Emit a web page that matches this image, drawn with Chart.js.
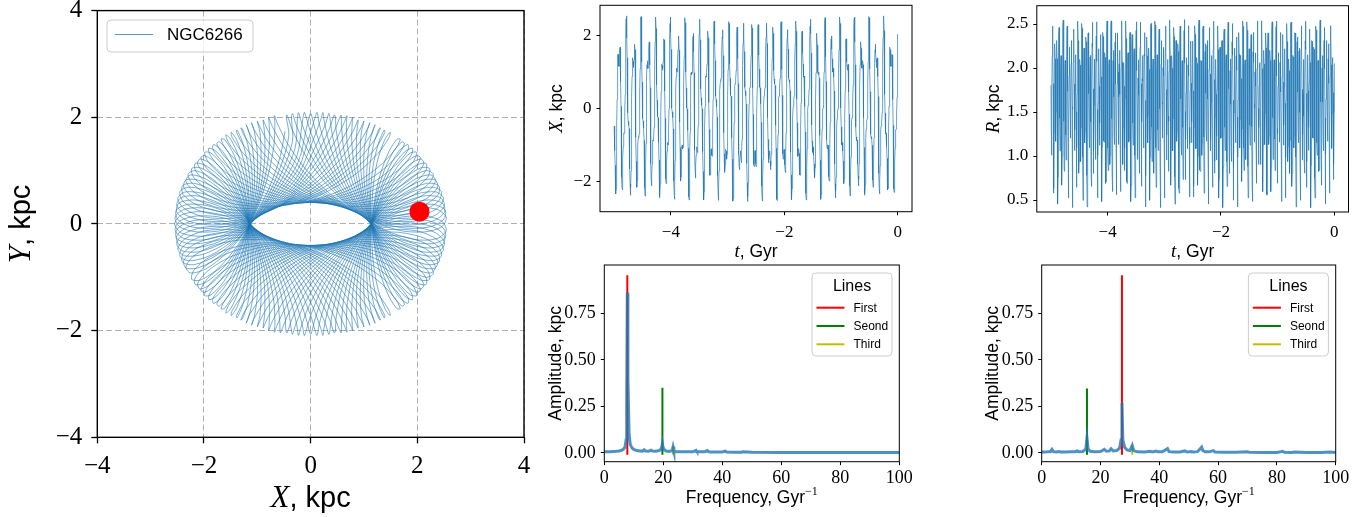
<!DOCTYPE html>
<html>
<head>
<meta charset="utf-8">
<title>NGC6266 orbit</title>
<script src="https://cdn.jsdelivr.net/npm/chart.js@4.4.1/dist/chart.umd.min.js"></script>
<style>
  html, body { margin: 0; padding: 0; background: #fff; }
  #page { position: relative; width: 1371px; height: 517px; }
  #page canvas { position: absolute; left: 0; top: 0; }
</style>
</head>
<body>
<div id="page">
  <canvas id="orbit" width="1371" height="517"></canvas>
  <canvas id="xt" width="1371" height="517"></canvas>
  <canvas id="rt" width="1371" height="517"></canvas>
  <canvas id="xspec" width="1371" height="517"></canvas>
  <canvas id="rspec" width="1371" height="517"></canvas>
</div>
<script>
// Galactocentric orbit of NGC6266, X and Y in kpc, sampled evenly from t = -5 Gyr to now
const orbitX = [
  -0.48, -0.58, -0.81, -1.15, -1.56, -1.96, -2.25, -2.34, -2.19, -1.78, -1.18, -0.46, 0.25, 0.85, 1.26, 1.47, 1.49, 1.39, 1.25, 1.16, 1.16, 1.27, 1.44, 1.61, 1.68, 1.58, 1.26, 0.74, 0.06, -0.68, -1.37, -1.89, -2.19, -2.23, -2.06, -1.74, -1.37, -1.04, -0.81, -0.69, -0.67, -0.68, -0.63, -0.46, -0.12, 0.38, 0.99, 1.61, 2.13, 2.46, 2.54, 2.35, 1.94, 1.39, 0.80, 0.27, -0.12, -0.35, -0.44, -0.46,
  -0.41, -0.55, -0.83, -1.22, -1.66, -2.07, -2.33, -2.38, -2.16, -1.71, -1.07, -0.36, 0.33, 0.88, 1.24, 1.39, 1.38, 1.28, 1.17, 1.12, 1.18, 1.34, 1.54, 1.71, 1.76, 1.61, 1.24, 0.66, -0.05, -0.79, -1.45, -1.92, -2.16, -2.16, -1.96, -1.63, -1.29, -1.01, -0.83, -0.77, -0.78, -0.79, -0.71, -0.49, -0.09, 0.46, 1.09, 1.71, 2.21, 2.49, 2.52, 2.28, 1.84, 1.28, 0.72, 0.24, -0.09, -0.28, -0.34, -0.36,
  -0.34, -0.54, -0.87, -1.31, -1.77, -2.17, -2.40, -2.39, -2.12, -1.62, -0.96, -0.25, 0.39, 0.89, 1.20, 1.31, 1.28, 1.18, 1.10, 1.11, 1.23, 1.43, 1.65, 1.82, 1.83, 1.62, 1.20, 0.57, -0.16, -0.89, -1.51, -1.94, -2.12, -2.07, -1.85, -1.53, -1.22, -0.99, -0.87, -0.86, -0.89, -0.89, -0.78, -0.51, -0.05, 0.54, 1.20, 1.82, 2.28, 2.51, 2.47, 2.19, 1.73, 1.18, 0.65, 0.23, -0.05, -0.19, -0.23, -0.25,
  -0.29, -0.54, -0.93, -1.41, -1.88, -2.26, -2.45, -2.39, -2.06, -1.52, -0.85, -0.16, 0.45, 0.89, 1.14, 1.21, 1.17, 1.09, 1.05, 1.11, 1.28, 1.52, 1.76, 1.91, 1.88, 1.62, 1.14, 0.48, -0.27, -0.98, -1.56, -1.93, -2.06, -1.98, -1.74, -1.44, -1.17, -0.99, -0.93, -0.95, -1.00, -0.98, -0.83, -0.50, 0.01, 0.64, 1.31, 1.91, 2.33, 2.51, 2.42, 2.09, 1.62, 1.09, 0.60, 0.23, 0.01, -0.09, -0.12, -0.16,
  -0.25, -0.56, -1.00, -1.51, -1.99, -2.35, -2.49, -2.37, -1.99, -1.42, -0.74, -0.08, 0.48, 0.87, 1.07, 1.11, 1.06, 1.00, 1.01, 1.13, 1.36, 1.63, 1.87, 1.99, 1.91, 1.60, 1.07, 0.37, -0.37, -1.07, -1.60, -1.91, -1.99, -1.87, -1.63, -1.36, -1.13, -1.01, -1.00, -1.06, -1.11, -1.07, -0.87, -0.48, 0.08, 0.74, 1.42, 1.99, 2.37, 2.49, 2.35, 1.99, 1.51, 1.00, 0.56, 0.25, 0.08, 0.01, -0.01, -0.08,
  -0.23, -0.60, -1.09, -1.62, -2.09, -2.42, -2.51, -2.33, -1.91, -1.31, -0.64, -0.01, 0.50, 0.83, 0.98, 1.00, 0.95, 0.93, 0.99, 1.17, 1.44, 1.74, 1.98, 2.06, 1.93, 1.56, 0.98, 0.27, -0.48, -1.14, -1.62, -1.88, -1.91, -1.76, -1.52, -1.28, -1.11, -1.05, -1.09, -1.17, -1.21, -1.14, -0.89, -0.45, 0.16, 0.85, 1.52, 2.06, 2.39, 2.45, 2.26, 1.88, 1.41, 0.93, 0.54, 0.29, 0.16, 0.12, 0.09, -0.01,
  -0.23, -0.65, -1.18, -1.73, -2.19, -2.47, -2.51, -2.28, -1.82, -1.20, -0.54, 0.05, 0.51, 0.78, 0.89, 0.89, 0.86, 0.87, 0.99, 1.22, 1.53, 1.85, 2.07, 2.12, 1.94, 1.51, 0.89, 0.16, -0.57, -1.20, -1.62, -1.83, -1.82, -1.65, -1.43, -1.23, -1.11, -1.10, -1.18, -1.28, -1.31, -1.20, -0.89, -0.39, 0.25, 0.96, 1.62, 2.12, 2.39, 2.40, 2.17, 1.77, 1.31, 0.87, 0.54, 0.34, 0.25, 0.23, 0.19, 0.05,
  -0.24, -0.72, -1.28, -1.84, -2.28, -2.52, -2.49, -2.21, -1.71, -1.09, -0.46, 0.09, 0.49, 0.71, 0.79, 0.78, 0.77, 0.83, 1.01, 1.29, 1.63, 1.96, 2.16, 2.16, 1.92, 1.45, 0.79, 0.05, -0.66, -1.24, -1.61, -1.76, -1.71, -1.54, -1.34, -1.18, -1.12, -1.17, -1.28, -1.38, -1.39, -1.24, -0.88, -0.33, 0.36, 1.07, 1.71, 2.16, 2.38, 2.33, 2.07, 1.66, 1.22, 0.83, 0.55, 0.41, 0.36, 0.34, 0.28, 0.09,
  -0.27, -0.80, -1.39, -1.94, -2.35, -2.54, -2.46, -2.13, -1.61, -0.99, -0.38, 0.12, 0.46, 0.63, 0.68, 0.67, 0.69, 0.81, 1.04, 1.37, 1.74, 2.06, 2.23, 2.19, 1.89, 1.37, 0.68, -0.06, -0.74, -1.26, -1.58, -1.68, -1.61, -1.44, -1.27, -1.16, -1.16, -1.25, -1.39, -1.49, -1.47, -1.26, -0.85, -0.25, 0.46, 1.18, 1.78, 2.19, 2.34, 2.25, 1.96, 1.56, 1.15, 0.81, 0.58, 0.48, 0.46, 0.44, 0.35, 0.12,
  -0.32, -0.89, -1.50, -2.04, -2.42, -2.55, -2.42, -2.04, -1.50, -0.89, -0.32, 0.13, 0.41, 0.54, 0.57, 0.58, 0.63, 0.80, 1.08, 1.46, 1.85, 2.16, 2.30, 2.20, 1.84, 1.28, 0.57, -0.16, -0.80, -1.27, -1.53, -1.59, -1.50, -1.34, -1.20, -1.15, -1.20, -1.34, -1.50, -1.59, -1.53, -1.27, -0.80, -0.16, 0.57, 1.28, 1.84, 2.20, 2.30, 2.16, 1.85, 1.46, 1.08, 0.80, 0.63, 0.58, 0.57, 0.54, 0.41, 0.13,
  -0.38, -0.99, -1.61, -2.13, -2.46, -2.54, -2.35, -1.94, -1.39, -0.80, -0.27, 0.12, 0.35, 0.44, 0.46, 0.48, 0.58, 0.81, 1.15, 1.56, 1.96, 2.25, 2.34, 2.19, 1.78, 1.18, 0.46, -0.25, -0.85, -1.26, -1.47, -1.49, -1.39, -1.25, -1.16, -1.16, -1.27, -1.44, -1.61, -1.68, -1.58, -1.26, -0.74, -0.06, 0.68, 1.37, 1.89, 2.19, 2.23, 2.06, 1.74, 1.37, 1.04, 0.81, 0.69, 0.67, 0.68, 0.63, 0.46, 0.12,
  -0.46, -1.09, -1.71, -2.21, -2.49, -2.52, -2.28, -1.84, -1.28, -0.72, -0.24, 0.09, 0.28, 0.34, 0.36, 0.41, 0.55, 0.83, 1.22, 1.66, 2.07, 2.33, 2.38, 2.16, 1.71, 1.07, 0.36, -0.33, -0.88, -1.24, -1.39, -1.38, -1.28, -1.17, -1.12, -1.18, -1.34, -1.54, -1.71, -1.76, -1.61, -1.24, -0.66, 0.05, 0.79, 1.45, 1.92, 2.16, 2.16, 1.96, 1.63, 1.29, 1.01, 0.83, 0.77, 0.78, 0.79, 0.71, 0.49, 0.09,
  -0.54, -1.20, -1.82, -2.28, -2.51, -2.47, -2.19, -1.73, -1.18, -0.65, -0.23, 0.05, 0.19, 0.23, 0.25, 0.34, 0.54, 0.87, 1.31, 1.77, 2.17, 2.40, 2.39, 2.12, 1.62, 0.96, 0.25, -0.39, -0.89, -1.20, -1.31, -1.28, -1.18, -1.10, -1.11, -1.23, -1.43, -1.65, -1.82, -1.83, -1.62, -1.20, -0.57, 0.16, 0.89, 1.51, 1.94, 2.12, 2.07, 1.85, 1.53, 1.22, 0.99, 0.87, 0.86, 0.89, 0.89, 0.78, 0.51, 0.05,
  -0.64, -1.31, -1.91, -2.33, -2.51, -2.42, -2.09, -1.62, -1.09, -0.60, -0.23, -0.01, 0.09, 0.12, 0.16, 0.29, 0.54, 0.93, 1.41, 1.88, 2.26, 2.45, 2.39, 2.06, 1.52, 0.85, 0.16, -0.45, -0.89, -1.14, -1.21, -1.17, -1.09, -1.05, -1.11, -1.28, -1.52, -1.76, -1.91, -1.88, -1.62, -1.14, -0.48, 0.27, 0.98, 1.56, 1.93, 2.06, 1.98, 1.74, 1.44, 1.17, 0.99, 0.93, 0.95, 1.00, 0.98, 0.83, 0.50, -0.01,
  -0.74, -1.42, -1.99, -2.37, -2.49, -2.35, -1.99, -1.51, -1.00, -0.56, -0.25, -0.08, -0.01, 0.01, 0.08, 0.25, 0.56, 1.00, 1.51, 1.99, 2.35, 2.49, 2.37, 1.99, 1.42, 0.74, 0.08, -0.48, -0.87, -1.07, -1.11, -1.06, -1.00, -1.01, -1.13, -1.36, -1.63, -1.87, -1.99, -1.91, -1.60, -1.07, -0.37, 0.37, 1.07, 1.60, 1.91, 1.99, 1.87, 1.63, 1.36, 1.13, 1.01, 1.00, 1.06, 1.11, 1.07, 0.87, 0.48, -0.08,
  -0.85, -1.52, -2.06, -2.39, -2.45, -2.26, -1.88, -1.41, -0.93, -0.54, -0.29, -0.16, -0.12, -0.09, 0.01, 0.23, 0.60, 1.09, 1.62, 2.09, 2.42, 2.51, 2.33, 1.91, 1.31, 0.64, 0.01, -0.50, -0.83, -0.98, -1.00, -0.95, -0.93, -0.99, -1.17, -1.44, -1.74, -1.98, -2.06, -1.93, -1.56, -0.98, -0.27, 0.48, 1.14, 1.62, 1.88, 1.91, 1.76, 1.52, 1.28, 1.11, 1.05, 1.09, 1.17, 1.21, 1.14, 0.89, 0.45, -0.16,
  -0.96, -1.62, -2.12, -2.39, -2.40, -2.17, -1.77, -1.31, -0.87, -0.54, -0.34, -0.25, -0.23, -0.19, -0.05, 0.23, 0.65, 1.18, 1.73, 2.19, 2.47, 2.51, 2.28, 1.82, 1.20, 0.54, -0.05, -0.51, -0.78, -0.89, -0.89, -0.86, -0.87, -0.99, -1.22, -1.53, -1.85, -2.07, -2.12, -1.94, -1.51, -0.89, -0.16, 0.57, 1.20, 1.62, 1.83, 1.82, 1.65, 1.43, 1.23, 1.11, 1.10, 1.18, 1.28, 1.31, 1.20, 0.89, 0.39, -0.25,
  -1.07, -1.71, -2.16, -2.38, -2.33, -2.07, -1.66, -1.22, -0.83, -0.55, -0.41, -0.36, -0.34, -0.28, -0.09, 0.24, 0.72, 1.28, 1.84, 2.28, 2.52, 2.49, 2.21, 1.71, 1.09, 0.46, -0.09, -0.49, -0.71, -0.79, -0.78, -0.77, -0.83, -1.01, -1.29, -1.63, -1.96, -2.16, -2.16, -1.92, -1.45, -0.79, -0.05, 0.66, 1.24, 1.61, 1.76, 1.71, 1.54, 1.34, 1.18, 1.12, 1.17, 1.28, 1.38, 1.39, 1.24, 0.88, 0.33, -0.36,
  -1.18, -1.78, -2.19, -2.34, -2.25, -1.96, -1.56, -1.15, -0.81, -0.58, -0.48, -0.46, -0.44, -0.35, -0.12, 0.27, 0.80, 1.39, 1.94, 2.35, 2.54, 2.46, 2.13, 1.61, 0.99, 0.38, -0.12, -0.46, -0.63, -0.68, -0.67, -0.69, -0.81, -1.04, -1.37, -1.74, -2.06, -2.23, -2.19, -1.89, -1.37, -0.68, 0.06, 0.74, 1.26, 1.58, 1.68, 1.61, 1.44, 1.27, 1.16, 1.16, 1.25, 1.39, 1.49, 1.47, 1.26, 0.85, 0.25, -0.46,
  -1.28, -1.84, -2.20, -2.30, -2.16, -1.85, -1.46, -1.08, -0.80, -0.63, -0.58, -0.57, -0.54, -0.41, -0.13, 0.32, 0.89, 1.50, 2.04
];
const orbitY = [
  1.74, 1.23, 0.60, -0.03, -0.53, -0.84, -0.92, -0.81, -0.60, -0.39, -0.29, -0.35, -0.58, -0.94, -1.32, -1.62, -1.72, -1.58, -1.17, -0.57, 0.13, 0.80, 1.30, 1.58, 1.59, 1.39, 1.06, 0.71, 0.45, 0.35, 0.42, 0.62, 0.87, 1.04, 1.05, 0.84, 0.40, -0.20, -0.87, -1.46, -1.88, -2.03, -1.90, -1.55, -1.06, -0.55, -0.14, 0.11, 0.15, 0.05, -0.13, -0.28, -0.29, -0.11, 0.27, 0.78, 1.32, 1.78, 2.04, 2.03,
  1.65, 1.11, 0.47, -0.12, -0.57, -0.81, -0.83, -0.69, -0.47, -0.30, -0.25, -0.38, -0.67, -1.07, -1.45, -1.72, -1.76, -1.54, -1.08, -0.44, 0.26, 0.89, 1.34, 1.54, 1.50, 1.26, 0.93, 0.61, 0.41, 0.38, 0.51, 0.75, 1.00, 1.14, 1.09, 0.81, 0.31, -0.33, -1.00, -1.56, -1.91, -2.00, -1.81, -1.42, -0.93, -0.45, -0.10, 0.07, 0.06, -0.08, -0.26, -0.37, -0.32, -0.07, 0.36, 0.91, 1.45, 1.88, 2.07, 2.00,
  1.55, 0.97, 0.35, -0.21, -0.59, -0.76, -0.72, -0.55, -0.35, -0.22, -0.23, -0.43, -0.78, -1.20, -1.58, -1.80, -1.78, -1.49, -0.97, -0.30, 0.39, 0.97, 1.36, 1.49, 1.39, 1.13, 0.80, 0.53, 0.39, 0.43, 0.62, 0.89, 1.12, 1.22, 1.11, 0.76, 0.20, -0.46, -1.12, -1.64, -1.93, -1.95, -1.71, -1.29, -0.80, -0.37, -0.08, 0.02, -0.05, -0.22, -0.39, -0.45, -0.34, -0.02, 0.47, 1.04, 1.58, 1.96, 2.09, 1.95,
  1.43, 0.84, 0.24, -0.27, -0.59, -0.69, -0.61, -0.42, -0.24, -0.15, -0.24, -0.50, -0.90, -1.33, -1.69, -1.86, -1.77, -1.42, -0.85, -0.17, 0.50, 1.04, 1.35, 1.42, 1.28, 0.99, 0.69, 0.47, 0.40, 0.50, 0.74, 1.02, 1.24, 1.28, 1.11, 0.69, 0.09, -0.60, -1.24, -1.71, -1.93, -1.88, -1.59, -1.15, -0.69, -0.31, -0.08, -0.05, -0.16, -0.35, -0.50, -0.52, -0.34, 0.05, 0.58, 1.17, 1.69, 2.02, 2.09, 1.88,
  1.30, 0.71, 0.13, -0.31, -0.56, -0.60, -0.48, -0.29, -0.13, -0.11, -0.26, -0.59, -1.02, -1.46, -1.79, -1.90, -1.75, -1.34, -0.73, -0.04, 0.60, 1.08, 1.33, 1.34, 1.15, 0.86, 0.59, 0.42, 0.42, 0.59, 0.86, 1.15, 1.34, 1.33, 1.08, 0.60, -0.04, -0.73, -1.34, -1.75, -1.90, -1.79, -1.46, -1.02, -0.59, -0.26, -0.11, -0.13, -0.29, -0.48, -0.60, -0.56, -0.31, 0.13, 0.71, 1.30, 1.79, 2.06, 2.06, 1.79,
  1.17, 0.58, 0.05, -0.34, -0.52, -0.50, -0.35, -0.16, -0.05, -0.08, -0.31, -0.69, -1.15, -1.59, -1.88, -1.93, -1.71, -1.24, -0.60, 0.09, 0.69, 1.11, 1.28, 1.24, 1.02, 0.74, 0.50, 0.40, 0.47, 0.69, 0.99, 1.28, 1.42, 1.35, 1.04, 0.50, -0.17, -0.85, -1.42, -1.77, -1.86, -1.69, -1.33, -0.90, -0.50, -0.24, -0.15, -0.24, -0.42, -0.61, -0.69, -0.59, -0.27, 0.24, 0.84, 1.43, 1.88, 2.09, 2.02, 1.69,
  1.04, 0.47, -0.02, -0.34, -0.45, -0.39, -0.22, -0.05, 0.02, -0.08, -0.37, -0.80, -1.29, -1.71, -1.95, -1.93, -1.64, -1.12, -0.46, 0.20, 0.76, 1.11, 1.22, 1.12, 0.89, 0.62, 0.43, 0.39, 0.53, 0.80, 1.13, 1.39, 1.49, 1.36, 0.97, 0.39, -0.30, -0.97, -1.49, -1.78, -1.80, -1.58, -1.20, -0.78, -0.43, -0.23, -0.22, -0.35, -0.55, -0.72, -0.76, -0.59, -0.21, 0.35, 0.97, 1.55, 1.95, 2.09, 1.96, 1.58,
  0.91, 0.36, -0.07, -0.32, -0.37, -0.26, -0.08, 0.06, 0.07, -0.10, -0.45, -0.93, -1.42, -1.81, -2.00, -1.91, -1.56, -1.00, -0.33, 0.31, 0.81, 1.09, 1.14, 1.00, 0.75, 0.51, 0.38, 0.41, 0.61, 0.93, 1.26, 1.50, 1.54, 1.34, 0.89, 0.26, -0.44, -1.08, -1.54, -1.76, -1.72, -1.45, -1.07, -0.67, -0.38, -0.25, -0.30, -0.47, -0.69, -0.83, -0.81, -0.57, -0.12, 0.47, 1.11, 1.65, 2.00, 2.07, 1.88, 1.45,
  0.78, 0.27, -0.11, -0.29, -0.28, -0.13, 0.05, 0.15, 0.11, -0.14, -0.55, -1.06, -1.55, -1.90, -2.03, -1.88, -1.46, -0.87, -0.20, 0.40, 0.84, 1.05, 1.04, 0.87, 0.62, 0.42, 0.35, 0.45, 0.71, 1.06, 1.39, 1.59, 1.58, 1.30, 0.80, 0.13, -0.57, -1.17, -1.58, -1.72, -1.62, -1.32, -0.94, -0.58, -0.35, -0.29, -0.39, -0.60, -0.81, -0.92, -0.84, -0.53, -0.03, 0.60, 1.23, 1.74, 2.03, 2.04, 1.78, 1.32,
  0.66, 0.19, -0.12, -0.23, -0.17, 0.00, 0.17, 0.23, 0.12, -0.19, -0.66, -1.19, -1.67, -1.98, -2.04, -1.82, -1.35, -0.74, -0.08, 0.48, 0.85, 1.00, 0.93, 0.74, 0.50, 0.35, 0.34, 0.51, 0.82, 1.19, 1.51, 1.67, 1.59, 1.24, 0.69, 0.00, -0.69, -1.24, -1.59, -1.67, -1.51, -1.19, -0.82, -0.51, -0.34, -0.35, -0.50, -0.74, -0.93, -1.00, -0.85, -0.48, 0.08, 0.74, 1.35, 1.82, 2.04, 1.98, 1.67, 1.19,
  0.55, 0.14, -0.11, -0.15, -0.05, 0.13, 0.28, 0.29, 0.11, -0.27, -0.78, -1.32, -1.78, -2.04, -2.03, -1.74, -1.23, -0.60, 0.03, 0.53, 0.84, 0.92, 0.81, 0.60, 0.39, 0.29, 0.35, 0.58, 0.94, 1.32, 1.62, 1.72, 1.58, 1.17, 0.57, -0.13, -0.80, -1.30, -1.58, -1.59, -1.39, -1.06, -0.71, -0.45, -0.35, -0.42, -0.62, -0.87, -1.04, -1.05, -0.84, -0.40, 0.20, 0.87, 1.46, 1.88, 2.03, 1.90, 1.55, 1.06,
  0.45, 0.10, -0.07, -0.06, 0.08, 0.26, 0.37, 0.32, 0.07, -0.36, -0.91, -1.45, -1.88, -2.07, -2.00, -1.65, -1.11, -0.47, 0.12, 0.57, 0.81, 0.83, 0.69, 0.47, 0.30, 0.25, 0.38, 0.67, 1.07, 1.45, 1.72, 1.76, 1.54, 1.08, 0.44, -0.26, -0.89, -1.34, -1.54, -1.50, -1.26, -0.93, -0.61, -0.41, -0.38, -0.51, -0.75, -1.00, -1.14, -1.09, -0.81, -0.31, 0.33, 1.00, 1.56, 1.91, 2.00, 1.81, 1.42, 0.93,
  0.37, 0.08, -0.02, 0.05, 0.22, 0.39, 0.45, 0.34, 0.02, -0.47, -1.04, -1.58, -1.96, -2.09, -1.95, -1.55, -0.97, -0.35, 0.21, 0.59, 0.76, 0.72, 0.55, 0.35, 0.22, 0.23, 0.43, 0.78, 1.20, 1.58, 1.80, 1.78, 1.49, 0.97, 0.30, -0.39, -0.97, -1.36, -1.49, -1.39, -1.13, -0.80, -0.53, -0.39, -0.43, -0.62, -0.89, -1.12, -1.22, -1.11, -0.76, -0.20, 0.46, 1.12, 1.64, 1.93, 1.95, 1.71, 1.29, 0.80,
  0.31, 0.08, 0.05, 0.16, 0.35, 0.50, 0.52, 0.34, -0.05, -0.58, -1.17, -1.69, -2.02, -2.09, -1.88, -1.43, -0.84, -0.24, 0.27, 0.59, 0.69, 0.61, 0.42, 0.24, 0.15, 0.24, 0.50, 0.90, 1.33, 1.69, 1.86, 1.77, 1.42, 0.85, 0.17, -0.50, -1.04, -1.35, -1.42, -1.28, -0.99, -0.69, -0.47, -0.40, -0.50, -0.74, -1.02, -1.24, -1.28, -1.11, -0.69, -0.09, 0.60, 1.24, 1.71, 1.93, 1.88, 1.59, 1.15, 0.69,
  0.26, 0.11, 0.13, 0.29, 0.48, 0.60, 0.56, 0.31, -0.13, -0.71, -1.30, -1.79, -2.06, -2.06, -1.79, -1.30, -0.71, -0.13, 0.31, 0.56, 0.60, 0.48, 0.29, 0.13, 0.11, 0.26, 0.59, 1.02, 1.46, 1.79, 1.90, 1.75, 1.34, 0.73, 0.04, -0.60, -1.08, -1.33, -1.34, -1.15, -0.86, -0.59, -0.42, -0.42, -0.59, -0.86, -1.15, -1.34, -1.33, -1.08, -0.60, 0.04, 0.73, 1.34, 1.75, 1.90, 1.79, 1.46, 1.02, 0.59,
  0.24, 0.15, 0.24, 0.42, 0.61, 0.69, 0.59, 0.27, -0.24, -0.84, -1.43, -1.88, -2.09, -2.02, -1.69, -1.17, -0.58, -0.05, 0.34, 0.52, 0.50, 0.35, 0.16, 0.05, 0.08, 0.31, 0.69, 1.15, 1.59, 1.88, 1.93, 1.71, 1.24, 0.60, -0.09, -0.69, -1.11, -1.28, -1.24, -1.02, -0.74, -0.50, -0.40, -0.47, -0.69, -0.99, -1.28, -1.42, -1.35, -1.04, -0.50, 0.17, 0.85, 1.42, 1.77, 1.86, 1.69, 1.33, 0.90, 0.50,
  0.23, 0.22, 0.35, 0.55, 0.72, 0.76, 0.59, 0.21, -0.35, -0.97, -1.55, -1.95, -2.09, -1.96, -1.58, -1.04, -0.47, 0.02, 0.34, 0.45, 0.39, 0.22, 0.05, -0.02, 0.08, 0.37, 0.80, 1.29, 1.71, 1.95, 1.93, 1.64, 1.12, 0.46, -0.20, -0.76, -1.11, -1.22, -1.12, -0.89, -0.62, -0.43, -0.39, -0.53, -0.80, -1.13, -1.39, -1.49, -1.36, -0.97, -0.39, 0.30, 0.97, 1.49, 1.78, 1.80, 1.58, 1.20, 0.78, 0.43,
  0.25, 0.30, 0.47, 0.69, 0.83, 0.81, 0.57, 0.12, -0.47, -1.11, -1.65, -2.00, -2.07, -1.88, -1.45, -0.91, -0.36, 0.07, 0.32, 0.37, 0.26, 0.08, -0.06, -0.07, 0.10, 0.45, 0.93, 1.42, 1.81, 2.00, 1.91, 1.56, 1.00, 0.33, -0.31, -0.81, -1.09, -1.14, -1.00, -0.75, -0.51, -0.38, -0.41, -0.61, -0.93, -1.26, -1.50, -1.54, -1.34, -0.89, -0.26, 0.44, 1.08, 1.54, 1.76, 1.72, 1.45, 1.07, 0.67, 0.38,
  0.29, 0.39, 0.60, 0.81, 0.92, 0.84, 0.53, 0.03, -0.60, -1.23, -1.74, -2.03, -2.04, -1.78, -1.32, -0.78, -0.27, 0.11, 0.29, 0.28, 0.13, -0.05, -0.15, -0.11, 0.14, 0.55, 1.06, 1.55, 1.90, 2.03, 1.88, 1.46, 0.87, 0.20, -0.40, -0.84, -1.05, -1.04, -0.87, -0.62, -0.42, -0.35, -0.45, -0.71, -1.06, -1.39, -1.59, -1.58, -1.30, -0.80, -0.13, 0.57, 1.17, 1.58, 1.72, 1.62, 1.32, 0.94, 0.58, 0.35,
  0.35, 0.50, 0.74, 0.93, 1.00, 0.85, 0.48, -0.08, -0.74, -1.35, -1.82, -2.04, -1.98, -1.67, -1.19, -0.66, -0.19, 0.12, 0.23
];
const tStart = -5;   // Gyr
const tEnd = 0;
const nowPos = [2.04, 0.23];   // present-day position, kpc
const clusterName = 'NGC6266';

// amplitude spectrum of X(t)
const freqX = [0, 1, 2, 3, 4, 5, 6, 6.5, 7, 7.4, 7.6, 7.8, 8.0, 8.4, 8.8, 9.3, 10, 11, 12, 13,
  13.5, 14, 15, 15.8, 16.3, 17, 18, 19, 19.5, 19.7, 19.9, 20.4, 21, 22, 23, 23.3, 23.6, 24.5, 26, 28,
  30, 31.1, 31.4, 32, 34, 34.9, 35.3, 36, 40, 41, 41.5, 44, 46.5, 47, 50, 60, 70, 80, 90, 100];
const ampX = [0.006, 0.006, 0.006, 0.007, 0.008, 0.010, 0.014, 0.020, 0.030, 0.070, 0.300, 0.863, 0.400, 0.100, 0.045, 0.028, 0.018, 0.012, 0.010, 0.009,
  0.016, 0.009, 0.008, 0.014, 0.009, 0.008, 0.009, 0.015, 0.030, 0.050, 0.030, 0.015, 0.009, 0.007, 0.012, 0.032, 0.010, 0.006, 0.005, 0.005,
  0.005, 0.013, 0.006, 0.005, 0.005, 0.012, 0.006, 0.004, 0.004, 0.009, 0.004, 0.003, 0.003, 0.006, 0.003, 0.002, 0.002, 0.001, 0.001, 0.001];
const lineFreqX = [7.8, 19.7, 23.3];
const lineAmpX = [0.956, 0.35, 0.036];

// amplitude spectrum of R(t)
const freqR = [0, 1, 2, 3, 3.5, 4, 5, 6, 6.5, 8, 10, 11.5, 12, 12.5, 14, 15, 15.4, 15.8, 16.5, 18,
  20, 21.3, 22, 23, 23.6, 24.3, 25.5, 26.5, 27.0, 27.3, 27.6, 28.2, 29, 30, 30.8, 31.3, 32.5, 35, 37, 37.6,
  39, 39.5, 41, 42.8, 43.3, 45, 47, 48.7, 49.5, 51, 51.5, 53, 54.4, 54.8, 55.5, 57, 58.4, 59, 62, 66,
  70, 70.5, 75, 80, 82, 82.5, 85, 86, 90, 95, 98, 100];
const ampR = [0.004, 0.004, 0.005, 0.007, 0.018, 0.006, 0.004, 0.007, 0.004, 0.004, 0.005, 0.006, 0.010, 0.006, 0.007, 0.020, 0.080, 0.020, 0.008, 0.006,
  0.007, 0.018, 0.008, 0.010, 0.022, 0.010, 0.012, 0.025, 0.070, 0.270, 0.070, 0.030, 0.015, 0.012, 0.040, 0.012, 0.005, 0.004, 0.008, 0.004,
  0.009, 0.005, 0.005, 0.022, 0.006, 0.004, 0.004, 0.010, 0.004, 0.007, 0.004, 0.006, 0.030, 0.012, 0.006, 0.005, 0.012, 0.004, 0.003, 0.003,
  0.006, 0.003, 0.002, 0.002, 0.008, 0.003, 0.002, 0.004, 0.002, 0.002, 0.004, 0.002];
const lineFreqR = [27.3, 15.4, 30.8];
const lineAmpR = [0.956, 0.346, 0.04];
const lineBase = -0.01;

const lineNames = ['First', 'Seond', 'Third'];
const lineColors = ['#ff0000', '#008000', '#bfbf00'];

// tick values
const orbitTicks = [-4, -2, 0, 2, 4];
const timeTicks = [-4, -2, 0];
const xTicks = [-2, 0, 2];
const rTicks = [0.5, 1.0, 1.5, 2.0, 2.5];
const freqTicks = [0, 20, 40, 60, 80, 100];
const ampTicks = [0, 0.25, 0.5, 0.75];

const SERIF = '"Liberation Serif", "DejaVu Serif", serif';
const SANS = '"Liberation Sans", "DejaVu Sans", sans-serif';
const C0 = 'rgba(31, 119, 180, 0.85)';
const W = 1371, H = 517, YW = 50, XH = 40;

const tStep = (tEnd - tStart) / (orbitX.length - 1);
const orbitT = orbitX.map((_, i) => tStart + i * tStep);
const orbitR = orbitX.map((x, i) => Math.hypot(x, orbitY[i]));

const pts = (xs, ys) => xs.map((x, i) => ({ x, y: ys[i] }));
const fmtInt = v => (v < 0 ? '\u2212' : '') + Math.abs(v);
const fmt1 = v => v.toFixed(1);
const fmt2 = v => v.toFixed(2);

// text made of pieces in different fonts, centred on (x, baseline)
function drawRich(ctx, parts, x, y, vertical) {
  ctx.save();
  ctx.translate(x, y);
  if (vertical) ctx.rotate(-Math.PI / 2);
  ctx.fillStyle = '#000';
  ctx.textBaseline = 'alphabetic';
  ctx.textAlign = 'left';
  const widths = parts.map(p => { ctx.font = p.font; return ctx.measureText(p.text).width; });
  let cx = -widths.reduce((a, b) => a + b, 0) / 2;
  parts.forEach((p, i) => {
    ctx.font = p.font;
    ctx.fillText(p.text, cx, p.dy || 0);
    cx += widths[i];
  });
  ctx.restore();
}

function orbitLegend(ctx, a) {
  const x = a.left + 9.7, y = a.top + 9.4;
  ctx.fillStyle = 'rgba(255,255,255,0.8)';
  ctx.strokeStyle = '#cccccc';
  ctx.lineWidth = 1;
  ctx.beginPath();
  ctx.roundRect(x, y, 146, 32, 4);
  ctx.fill();
  ctx.stroke();
  ctx.strokeStyle = C0;
  ctx.lineWidth = 0.9;
  ctx.beginPath();
  ctx.moveTo(x + 8, y + 14.5);
  ctx.lineTo(x + 46, y + 14.5);
  ctx.stroke();
  ctx.fillStyle = '#000';
  ctx.font = '17px ' + SANS;
  ctx.textBaseline = 'middle';
  ctx.fillText(clusterName, x + 60, y + 15);
}

function linesLegend(ctx, a) {
  const w = 80, h = 83;
  const x = a.right - 7.3 - w, y = a.top + 8;
  ctx.fillStyle = 'rgba(255,255,255,0.8)';
  ctx.strokeStyle = '#cccccc';
  ctx.lineWidth = 1;
  ctx.beginPath();
  ctx.roundRect(x, y, w, h, 4);
  ctx.fill();
  ctx.stroke();
  ctx.fillStyle = '#000';
  ctx.textBaseline = 'middle';
  ctx.textAlign = 'center';
  ctx.font = '16px ' + SANS;
  ctx.fillText('Lines', x + w / 2, y + 14);
  ctx.textAlign = 'left';
  ctx.font = '12px ' + SANS;
  lineNames.forEach((name, i) => {
    const ly = y + 34.7 + i * 18.3;
    ctx.strokeStyle = lineColors[i];
    ctx.lineWidth = 2;
    ctx.beginPath();
    ctx.moveTo(x + 4.5, ly);
    ctx.lineTo(x + 32.5, ly);
    ctx.stroke();
    ctx.fillText(name, x + 41.5, ly + 0.5);
  });
}

// frame, axis titles and legend for one panel
function decor(cfg) {
  return {
    id: 'decor',
    afterDraw(chart) {
      const { ctx, chartArea: a } = chart;
      ctx.save();
      ctx.strokeStyle = '#000';
      ctx.lineWidth = cfg.frame;
      ctx.strokeRect(a.left, a.top, a.right - a.left, a.bottom - a.top);
      drawRich(ctx, cfg.xTitle, (a.left + a.right) / 2, a.bottom + cfg.xGap, false);
      drawRich(ctx, cfg.yTitle, a.left - cfg.yGap, (a.top + a.bottom) / 2, true);
      if (cfg.legend) cfg.legend(ctx, a);
      ctx.restore();
    }
  };
}

function axis(o) {
  return {
    type: 'linear',
    min: o.min,
    max: o.max,
    afterBuildTicks: s => { s.ticks = o.ticks.map(v => ({ value: v })); },
    afterFit: s => {
      if (s.isHorizontal()) s.height = XH; else s.width = YW;
      // keep the plot box where the layout padding puts it
      s.paddingTop = s.paddingBottom = s.paddingLeft = s.paddingRight = 0;
    },
    ticks: {
      callback: o.fmt, color: '#000', padding: o.pad,
      font: { family: SERIF, size: o.size },
      maxRotation: 0, autoSkip: false
    },
    grid: {
      drawOnChartArea: !!o.grid, color: '#b0b0b0', lineWidth: 1,
      tickLength: o.tick, tickColor: '#000', tickWidth: o.tickW || 1
    },
    border: { display: false, dash: o.grid ? [6, 3] : [] }
  };
}

function panel(id, r, scales, datasets, cfg) {
  return new Chart(document.getElementById(id), {
    type: 'scatter',
    data: { datasets },
    options: {
      responsive: false,
      animation: false,
      events: [],
      layout: { padding: { left: r.l - YW, top: r.t, right: W - r.r, bottom: H - r.b - XH } },
      scales,
      elements: { point: { radius: 0 } },
      plugins: { legend: { display: false }, tooltip: { enabled: false } }
    },
    plugins: [decor(cfg)]
  });
}

const lineSet = (freq, amp) => freq.map((f, i) => ({
  data: [{ x: f, y: lineBase }, { x: f, y: amp[i] }],
  showLine: true, borderColor: lineColors[i], borderWidth: 2, pointRadius: 0
}));

// orbit in the X-Y plane
panel('orbit', { l: 97.3, t: 10.6, r: 524, b: 437.3 }, {
  x: axis({ min: -4, max: 4, ticks: orbitTicks, fmt: fmtInt, size: 25, pad: 8, tick: 6, tickW: 1.3, grid: true }),
  y: axis({ min: -4, max: 4, ticks: orbitTicks, fmt: fmtInt, size: 25, pad: 9, tick: 6, tickW: 1.3, grid: true })
}, [
  { data: [{ x: nowPos[0], y: nowPos[1] }], pointRadius: 10, pointBackgroundColor: '#ff0000', pointBorderWidth: 0 },
  { data: pts(orbitX, orbitY), showLine: true, borderColor: C0, borderWidth: 0.7, tension: 0.3, pointRadius: 0 }
], {
  frame: 1.4, xGap: 70, yGap: 67, legend: orbitLegend,
  xTitle: [{ text: 'X', font: 'italic 31px ' + SERIF }, { text: ', kpc', font: '29px ' + SANS }],
  yTitle: [{ text: 'Y', font: 'italic 31px ' + SERIF }, { text: ', kpc', font: '29px ' + SANS }]
});

// X against time
panel('xt', { l: 600, t: 5.3, r: 912, b: 211.7 }, {
  x: axis({ min: -5.25, max: 0.25, ticks: timeTicks, fmt: fmtInt, size: 17, pad: 7, tick: 3.5 }),
  y: axis({ min: -2.83, max: 2.83, ticks: xTicks, fmt: fmtInt, size: 17, pad: 5, tick: 3.5 })
}, [
  { data: pts(orbitT, orbitX), showLine: true, borderColor: C0, borderWidth: 0.8, pointRadius: 0 }
], {
  frame: 1, xGap: 45, yGap: 38,
  xTitle: [{ text: 't', font: 'italic 19px ' + SERIF }, { text: ', Gyr', font: '17.5px ' + SANS }],
  yTitle: [{ text: 'X', font: 'italic 19px ' + SERIF }, { text: ', kpc', font: '17.5px ' + SANS }]
});

// R against time
panel('rt', { l: 1036.8, t: 5.7, r: 1348.5, b: 212 }, {
  x: axis({ min: -5.25, max: 0.25, ticks: timeTicks, fmt: fmtInt, size: 17, pad: 7, tick: 3.5 }),
  y: axis({ min: 0.364, max: 2.708, ticks: rTicks, fmt: fmt1, size: 17, pad: 5, tick: 3.5 })
}, [
  { data: pts(orbitT, orbitR), showLine: true, borderColor: C0, borderWidth: 0.8, pointRadius: 0 }
], {
  frame: 1, xGap: 45, yGap: 38,
  xTitle: [{ text: 't', font: 'italic 19px ' + SERIF }, { text: ', Gyr', font: '17.5px ' + SANS }],
  yTitle: [{ text: 'R', font: 'italic 19px ' + SERIF }, { text: ', kpc', font: '17.5px ' + SANS }]
});

const freqTitle = [{ text: 'Frequency, Gyr', font: '17.5px ' + SANS }, { text: '\u22121', font: '12px ' + SERIF, dy: -8 }];
const ampTitle = [{ text: 'Amplitude, kpc', font: '17.5px ' + SANS }];

// spectrum of X
panel('xspec', { l: 604.3, t: 265, r: 899.3, b: 461.7 }, {
  x: axis({ min: 0, max: 100, ticks: freqTicks, fmt: fmtInt, size: 18, pad: 2, tick: 3.5 }),
  y: axis({ min: -0.048, max: 1.011, ticks: ampTicks, fmt: fmt2, size: 18, pad: 5, tick: 3.5 })
}, [
  { data: pts(freqX, ampX), showLine: true, borderColor: 'rgba(31, 119, 180, 0.8)', borderWidth: 3, pointRadius: 0 },
  ...lineSet(lineFreqX, lineAmpX)
], { frame: 1, xGap: 41.6, yGap: 43.6, legend: linesLegend, xTitle: freqTitle, yTitle: ampTitle });

// spectrum of R
panel('rspec', { l: 1041.7, t: 265, r: 1335.7, b: 461.7 }, {
  x: axis({ min: 0, max: 100, ticks: freqTicks, fmt: fmtInt, size: 18, pad: 2, tick: 3.5 }),
  y: axis({ min: -0.048, max: 1.011, ticks: ampTicks, fmt: fmt2, size: 18, pad: 5, tick: 3.5 })
}, [
  { data: pts(freqR, ampR), showLine: true, borderColor: 'rgba(31, 119, 180, 0.8)', borderWidth: 3, pointRadius: 0 },
  ...lineSet(lineFreqR, lineAmpR)
], { frame: 1, xGap: 41.6, yGap: 43.4, legend: linesLegend, xTitle: freqTitle, yTitle: ampTitle });
</script>
</body>
</html>
